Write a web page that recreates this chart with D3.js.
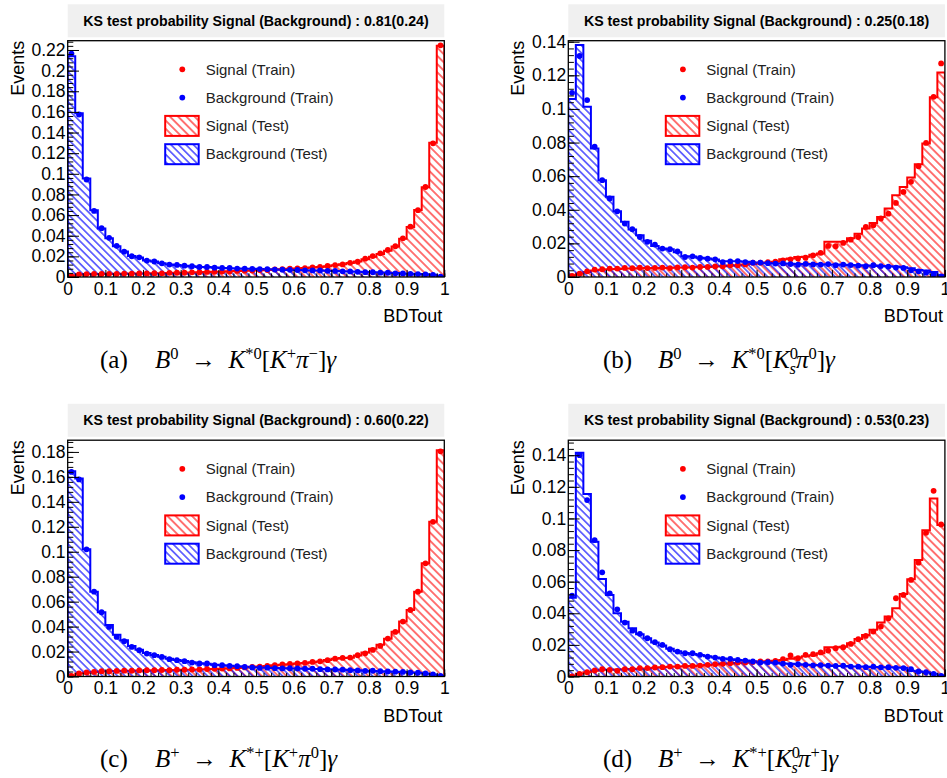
<!DOCTYPE html>
<html lang="en">
<head>
<meta charset="utf-8">
<title>BDT output distributions</title>
<script src="https://cdnjs.cloudflare.com/ajax/libs/d3/7.8.5/d3.min.js"></script>
<style>
  body { margin: 0; background: #fff; }
  svg text { font-family: "Liberation Sans", Arial, Helvetica, sans-serif; }
  svg text.cap { font-family: "Liberation Serif", "Times New Roman", serif; font-size: 25px; }
  .tick line { stroke: #000; }
</style>
</head>
<body>
<script>

// ---- data (50 bins on BDTout in [0,1]) ----
const nBins = 50;

const sigTestA  = [0.0008,0.0025,0.0028,0.0029,0.003,0.003,0.0031,0.0032,0.0033,0.0034,0.0035,0.0036,0.0037,0.0039,0.004,0.0042,0.0044,0.0046,0.0048,0.005,0.0052,0.0055,0.0058,0.006,0.0063,0.0066,0.0069,0.0072,0.0075,0.0079,0.0083,0.0087,0.0092,0.0098,0.0105,0.0114,0.0124,0.0135,0.015,0.0172,0.0197,0.0224,0.0255,0.0295,0.037,0.0485,0.065,0.087,0.13,0.224];
const sigTrainA = [0.0009,0.0026,0.0027,0.003,0.0029,0.0031,0.003,0.0033,0.0032,0.0035,0.0034,0.0037,0.0036,0.004,0.0041,0.0041,0.0045,0.0046,0.0049,0.005,0.0053,0.0054,0.0059,0.0061,0.0062,0.0067,0.0068,0.0073,0.0075,0.008,0.0084,0.0086,0.0094,0.0097,0.0107,0.0116,0.0122,0.0137,0.0148,0.0178,0.0203,0.0228,0.0262,0.0298,0.0375,0.0488,0.0648,0.0872,0.1295,0.2245];
const bkgTestA  = [0.214,0.1586,0.0955,0.0647,0.047,0.0376,0.0298,0.0247,0.0203,0.019,0.0161,0.015,0.0134,0.0121,0.0116,0.011,0.0104,0.0098,0.0096,0.0091,0.0088,0.0086,0.0083,0.0081,0.0079,0.0077,0.0075,0.0073,0.0071,0.0069,0.0068,0.0066,0.0064,0.0062,0.006,0.0058,0.0056,0.0053,0.0051,0.0048,0.0045,0.0043,0.004,0.0038,0.0035,0.0032,0.003,0.0027,0.0022,0.0005];
const bkgTrainA = [0.2165,0.1575,0.0945,0.064,0.0473,0.038,0.0302,0.0245,0.0201,0.0191,0.0159,0.015,0.0133,0.012,0.0117,0.011,0.0104,0.0097,0.0097,0.009,0.0088,0.0087,0.0082,0.0081,0.0078,0.0077,0.0076,0.0072,0.0071,0.007,0.0068,0.0065,0.0064,0.0063,0.006,0.0059,0.0055,0.0054,0.005,0.0047,0.0046,0.0042,0.0041,0.0036,0.0035,0.0031,0.0028,0.0026,0.0021,0.0004];

const sigTestB  = [0.001,0.0021,0.003,0.0038,0.0043,0.0046,0.0048,0.005,0.0051,0.0052,0.0053,0.0054,0.0054,0.0055,0.0056,0.0057,0.0058,0.0059,0.006,0.0062,0.0064,0.0067,0.007,0.0074,0.0078,0.0082,0.0086,0.009,0.0105,0.011,0.0119,0.012,0.0133,0.014,0.0209,0.0209,0.0209,0.023,0.0258,0.0288,0.0322,0.0357,0.0407,0.0487,0.0536,0.0592,0.0671,0.0794,0.107,0.1217];
const sigTrainB = [0.0006,0.002,0.0034,0.0044,0.0046,0.005,0.005,0.0054,0.0052,0.0055,0.0053,0.0054,0.0056,0.0053,0.0057,0.0058,0.0056,0.006,0.006,0.0063,0.0064,0.007,0.007,0.0075,0.0085,0.0085,0.0089,0.0092,0.0099,0.0105,0.011,0.0115,0.0129,0.0143,0.0185,0.0183,0.0203,0.0222,0.0238,0.0298,0.0308,0.0348,0.0377,0.0441,0.0506,0.0566,0.0659,0.0798,0.1072,0.1271];
const bkgTestB  = [0.1059,0.138,0.1013,0.0765,0.0576,0.0477,0.0391,0.0328,0.0282,0.0248,0.0215,0.0185,0.017,0.0165,0.0148,0.0123,0.0122,0.0115,0.011,0.0104,0.0093,0.0093,0.0094,0.009,0.0087,0.0085,0.0083,0.0081,0.008,0.0079,0.0078,0.0077,0.0077,0.0076,0.0075,0.0074,0.0073,0.0072,0.007,0.0069,0.0068,0.0066,0.0064,0.0062,0.0058,0.0052,0.0042,0.0038,0.003,0.001];
const bkgTrainB = [0.1096,0.1315,0.1053,0.0775,0.0576,0.0467,0.0391,0.0318,0.0284,0.0238,0.0209,0.0193,0.0169,0.0165,0.0153,0.0119,0.0123,0.0113,0.0109,0.0105,0.0089,0.0093,0.0095,0.0089,0.0085,0.0086,0.0082,0.008,0.0081,0.0077,0.0073,0.0078,0.0075,0.0074,0.0077,0.007,0.0074,0.0071,0.0068,0.0064,0.007,0.0065,0.0062,0.0056,0.0054,0.004,0.0034,0.0026,0.0014,0.0003];

const sigTestC  = [0.0006,0.0024,0.0031,0.0036,0.0041,0.0043,0.0045,0.0046,0.0047,0.0048,0.0049,0.005,0.0051,0.0052,0.0053,0.0054,0.0055,0.0057,0.0059,0.0061,0.0063,0.0066,0.0069,0.0072,0.0076,0.008,0.0085,0.009,0.0095,0.0099,0.0104,0.0108,0.0114,0.0121,0.0132,0.0142,0.0148,0.015,0.0168,0.0192,0.0222,0.0255,0.0302,0.0358,0.044,0.0533,0.068,0.0907,0.124,0.1813];
const sigTrainC = [0.0005,0.0024,0.0032,0.0037,0.0043,0.0042,0.0045,0.0047,0.0046,0.0049,0.005,0.005,0.0052,0.0051,0.0054,0.0055,0.0056,0.0056,0.006,0.0062,0.0064,0.0065,0.0069,0.0073,0.0077,0.0079,0.0085,0.0091,0.0096,0.01,0.0104,0.0109,0.0117,0.0122,0.0131,0.0143,0.0149,0.0152,0.0171,0.0186,0.0213,0.0245,0.0304,0.0357,0.044,0.0533,0.068,0.0907,0.124,0.1805];
const bkgTestC  = [0.1645,0.1587,0.1019,0.068,0.0515,0.0413,0.0335,0.029,0.0245,0.0215,0.0188,0.0172,0.0158,0.0142,0.0133,0.0124,0.0114,0.0106,0.0102,0.0094,0.009,0.0086,0.0083,0.0079,0.0075,0.0072,0.007,0.0068,0.0066,0.0065,0.0064,0.0063,0.0061,0.006,0.0058,0.0056,0.0054,0.0052,0.005,0.0047,0.0045,0.0043,0.0041,0.0039,0.0036,0.0033,0.003,0.0025,0.0017,0.0006];
const bkgTrainC = [0.164,0.158,0.1019,0.068,0.0515,0.0397,0.0317,0.0283,0.0237,0.0211,0.0184,0.0171,0.0157,0.0139,0.0131,0.0123,0.0112,0.0104,0.0104,0.0091,0.0091,0.0085,0.0083,0.0077,0.0072,0.0069,0.0071,0.0067,0.0065,0.0066,0.0064,0.0062,0.0062,0.0059,0.0057,0.0056,0.0055,0.0051,0.0049,0.0045,0.0046,0.0042,0.004,0.0039,0.0037,0.0033,0.003,0.0024,0.0016,0.0005];

const sigTestD  = [0.0002,0.0017,0.0027,0.0037,0.0042,0.0042,0.0044,0.0046,0.0047,0.0049,0.0051,0.0055,0.0058,0.0061,0.0063,0.0065,0.0067,0.0069,0.0072,0.0076,0.008,0.0083,0.0086,0.0088,0.0091,0.0094,0.0096,0.0099,0.0104,0.0112,0.012,0.0128,0.0135,0.0147,0.0185,0.0185,0.0188,0.021,0.0238,0.0263,0.0295,0.0341,0.0379,0.0432,0.0522,0.0615,0.0737,0.0926,0.1126,0.0958];
const sigTrainD = [0.0001,0.0017,0.0027,0.0038,0.0046,0.0042,0.0036,0.0046,0.0046,0.0053,0.0053,0.0057,0.0059,0.0063,0.0063,0.0067,0.0067,0.0069,0.0074,0.0078,0.008,0.0084,0.0088,0.0088,0.0091,0.0095,0.0095,0.0099,0.0109,0.0133,0.0116,0.0137,0.0141,0.0152,0.0164,0.0179,0.0185,0.0206,0.0236,0.0257,0.0284,0.0316,0.0368,0.0495,0.0516,0.0611,0.072,0.0909,0.1175,0.0962];
const bkgTestD  = [0.0499,0.1415,0.1154,0.0853,0.0617,0.0516,0.04,0.0347,0.0305,0.0267,0.0242,0.0215,0.0196,0.0175,0.016,0.0148,0.0143,0.0136,0.0128,0.012,0.0114,0.0109,0.0105,0.0101,0.0096,0.0091,0.0089,0.0087,0.0083,0.008,0.0077,0.0075,0.0073,0.0071,0.0069,0.0067,0.0066,0.0064,0.0063,0.0061,0.006,0.0059,0.0058,0.0057,0.0056,0.0036,0.0032,0.0027,0.0018,0.0006];
const bkgTrainD = [0.0512,0.14,0.1116,0.0863,0.0659,0.0526,0.0425,0.0341,0.029,0.027,0.0242,0.0217,0.02,0.0173,0.0158,0.0147,0.0147,0.0137,0.0126,0.012,0.0112,0.0112,0.0105,0.0101,0.0095,0.0088,0.009,0.0088,0.0082,0.0074,0.0078,0.0074,0.0071,0.0072,0.0069,0.0067,0.0068,0.0063,0.0062,0.0059,0.0062,0.0058,0.0059,0.0055,0.0053,0.0046,0.0032,0.0027,0.0017,0.0004];

const ksValues = ["0.81(0.24)", "0.25(0.18)", "0.60(0.22)", "0.53(0.23)"];
const yMaxes   = [0.229, 0.1406, 0.1894, 0.1495];
const xTicks   = [0, 0.1, 0.2, 0.3, 0.4, 0.5, 0.6, 0.7, 0.8, 0.9, 1];
const legendLabels = ["Signal (Train)", "Background (Train)", "Signal (Test)", "Background (Test)"];

// captions: [text, kind]; kind n = upright, i = italic, sup, bsub = sub stacked under previous sup
const arrow = "\u2002\u2192\u2002";
const captions = [
  {label: "(a)", parts: [["B","i"],["0","sup"],[arrow,"n"],["K","i"],["*0","sup"],["[","n"],["K","i"],["+","sup"],["\u03c0","i"],["\u2212","sup"],["]","n"],["\u03b3","i"]]},
  {label: "(b)", parts: [["B","i"],["0","sup"],[arrow,"n"],["K","i"],["*0","sup"],["[","n"],["K","i"],["0","sup"],["s","bsub"],["\u03c0","i"],["0","sup"],["]","n"],["\u03b3","i"]]},
  {label: "(c)", parts: [["B","i"],["+","sup"],[arrow,"n"],["K","i"],["*+","sup"],["[","n"],["K","i"],["+","sup"],["\u03c0","i"],["0","sup"],["]","n"],["\u03b3","i"]]},
  {label: "(d)", parts: [["B","i"],["+","sup"],[arrow,"n"],["K","i"],["*+","sup"],["[","n"],["K","i"],["0","sup"],["s","bsub"],["\u03c0","i"],["+","sup"],["]","n"],["\u03b3","i"]]}
];

const panels = [
  {sigTest: sigTestA, sigTrain: sigTrainA, bkgTest: bkgTestA, bkgTrain: bkgTrainA},
  {sigTest: sigTestB, sigTrain: sigTrainB, bkgTest: bkgTestB, bkgTrain: bkgTrainB},
  {sigTest: sigTestC, sigTrain: sigTrainC, bkgTest: bkgTestC, bkgTrain: bkgTrainC},
  {sigTest: sigTestD, sigTrain: sigTrainD, bkgTest: bkgTestD, bkgTrain: bkgTrainD}
];

// ---- layout ----
const width = 947, height = 778;
const frameW = 376.6, frameH = 236.3;
const frameLeft = [67.7, 568.3, 67.7, 568.3];
const frameTop  = [40.7, 40.7, 440.2, 440.2];
const capPos = [[100, 368], [603, 368], [100, 767], [603, 767]];

const red = "#ff0000", blue = "#0000ff";

const svg = d3.select("body").append("svg")
  .attr("width", width).attr("height", height);

const defs = svg.append("defs");

// hatch patterns ("\\\" direction)
function hatch(id, color, gap) {
  const p = defs.append("pattern")
    .attr("id", id)
    .attr("patternUnits", "userSpaceOnUse")
    .attr("width", gap).attr("height", gap)
    .attr("patternTransform", "rotate(-45)");
  p.append("line")
    .attr("x1", gap / 2).attr("y1", 0)
    .attr("x2", gap / 2).attr("y2", gap)
    .attr("stroke", color).attr("stroke-width", 1.1);
}
hatch("hatchSig", red, 5.8);
hatch("hatchBkg", blue, 5.3);

const edges = d3.range(nBins + 1).map(i => i / nBins);

function fmt(v) { return String(+v.toFixed(3)); }

panels.forEach((p, k) => {
  const left = frameLeft[k], top = frameTop[k];
  const g = svg.append("g");

  const x = d3.scaleLinear().domain([0, 1]).range([left, left + frameW]);
  const y = d3.scaleLinear().domain([0, yMaxes[k]]).range([top + frameH, top]);

  // title box
  g.append("rect")
    .attr("x", left).attr("y", top - 36.4)
    .attr("width", frameW).attr("height", 33)
    .attr("fill", "#f0f0f0");
  g.append("text")
    .attr("x", left + frameW / 2).attr("y", top - 15)
    .attr("text-anchor", "middle")
    .style("font-weight", "bold").style("font-size", "14.2px")
    .text("KS test probability Signal (Background) : " + ksValues[k]);

  // clip to frame
  defs.append("clipPath").attr("id", "clip" + k)
    .append("rect").attr("x", left).attr("y", top).attr("width", frameW).attr("height", frameH);
  const plot = g.append("g").attr("clip-path", "url(#clip" + k + ")");

  function stepLine(vals) {
    let d = "M" + x(0) + "," + y(0);
    vals.forEach((v, i) => {
      d += "L" + x(edges[i]) + "," + y(v) + "L" + x(edges[i + 1]) + "," + y(v);
    });
    d += "L" + x(1) + "," + y(0);
    return d;
  }

  [[p.sigTest, "hatchSig", red], [p.bkgTest, "hatchBkg", blue]].forEach(([vals, pat, col]) => {
    plot.append("path").attr("d", stepLine(vals) + "Z").attr("fill", "url(#" + pat + ")").attr("stroke", "none");
    plot.append("path").attr("d", stepLine(vals)).attr("fill", "none").attr("stroke", col).attr("stroke-width", 2);
  });

  [[p.sigTrain, red], [p.bkgTrain, blue]].forEach(([vals, col]) => {
    plot.selectAll(null).data(vals).enter().append("circle")
      .attr("cx", (d, i) => x((edges[i] + edges[i + 1]) / 2))
      .attr("cy", d => y(d))
      .attr("r", 2.9)
      .attr("fill", col);
  });

  // axes
  const yMajor = d3.range(0, yMaxes[k] + 1e-9, 0.02);
  const yMinor = d3.range(0, yMaxes[k] + 1e-9, 0.004);
  const xMinor = d3.range(0, 1 + 1e-9, 0.02);

  const axisStyle = sel => {
    sel.select(".domain").remove();
    sel.selectAll("text").style("font-size", "17.5px").attr("fill", "#000");
    sel.selectAll("line").attr("stroke", "#000");
  };

  g.append("g").attr("transform", "translate(" + left + ",0)")
    .call(d3.axisLeft(y).tickValues(yMinor).tickSize(-5.6).tickFormat(""))
    .call(axisStyle);
  g.append("g").attr("transform", "translate(" + left + ",0)")
    .call(d3.axisLeft(y).tickValues(yMajor).tickSize(-11.3).tickPadding(2.2).tickFormat(fmt))
    .call(axisStyle);
  g.append("g").attr("transform", "translate(0," + (top + frameH) + ")")
    .call(d3.axisBottom(x).tickValues(xMinor).tickSize(-3.6).tickFormat(""))
    .call(axisStyle);
  g.append("g").attr("transform", "translate(0," + (top + frameH) + ")")
    .call(d3.axisBottom(x).tickValues(xTicks).tickSize(-7.1).tickPadding(5.5).tickFormat(fmt))
    .call(axisStyle);

  // frame
  g.append("rect")
    .attr("x", left).attr("y", top).attr("width", frameW).attr("height", frameH)
    .attr("fill", "none").attr("stroke", "#000").attr("stroke-width", 1.3);

  // axis titles
  g.append("text")
    .attr("transform", "translate(" + (left - 44) + "," + top + ") rotate(-90)")
    .attr("text-anchor", "end")
    .style("font-size", "18px")
    .text("Events");
  g.append("text")
    .attr("x", left + frameW - 2).attr("y", top + frameH + 45)
    .attr("text-anchor", "end")
    .style("font-size", "18px")
    .text("BDTout");

  // legend
  const lx = left + 114.6, tx = left + 138, ly = top + 28.6, dy = 28.3;
  const leg = g.append("g");
  [red, blue].forEach((col, i) => {
    leg.append("circle").attr("cx", lx).attr("cy", ly + i * dy).attr("r", 2.9).attr("fill", col);
  });
  [["hatchSig", red], ["hatchBkg", blue]].forEach(([pat, col], i) => {
    const cy = ly + (i + 2) * dy;
    leg.append("rect").attr("x", left + 97.5).attr("y", cy - 10)
      .attr("width", 33.5).attr("height", 20)
      .attr("fill", "#fff");
    leg.append("rect").attr("x", left + 97.5).attr("y", cy - 10)
      .attr("width", 33.5).attr("height", 20)
      .attr("fill", "url(#" + pat + ")").attr("stroke", col).attr("stroke-width", 2);
  });
  legendLabels.forEach((t, i) => {
    leg.append("text").attr("x", tx).attr("y", ly + i * dy).attr("dy", "0.35em")
      .style("font-size", "15px").attr("fill", "#222").text(t);
  });

  // caption: label, then the decay formula
  const [cx, cy] = capPos[k];
  svg.append("text").attr("class", "cap").attr("x", cx).attr("y", cy).text(captions[k].label);
  const cap = svg.append("text").attr("class", "cap").attr("x", cx + 55).attr("y", cy);
  let shift = 0;
  captions[k].parts.forEach(([s, kind]) => {
    const sp = cap.append("tspan");
    const target = kind === "sup" ? -9 : (kind === "bsub") ? 6 : 0;
    if (target !== shift) sp.attr("dy", target - shift);
    shift = target;
    if (kind === "bsub") sp.attr("dx", -8.5);
    if (kind === "sup" || kind === "bsub") sp.style("font-size", "16.5px");
    if (kind === "i" || kind === "bsub") sp.style("font-style", "italic");
    sp.text(s);
  });
});
</script>
</body>
</html>
